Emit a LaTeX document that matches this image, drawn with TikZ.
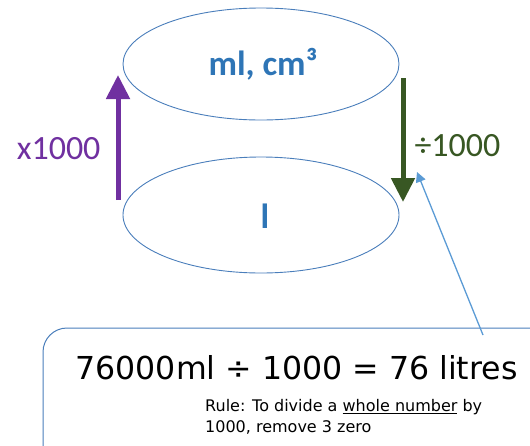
\documentclass[tikz,border=0pt]{standalone}
\usepackage{fontspec}
\setmainfont{Carlito}
\newfontfamily\comicfont{DejaVu Sans}
\usetikzlibrary{arrows.meta,shapes.geometric}
\definecolor{ellblue}{HTML}{4A7EBB}
\definecolor{txtblue}{HTML}{2E75B6}
\definecolor{purp}{HTML}{7030A0}
\definecolor{dgreen}{HTML}{385723}
\definecolor{lblue}{HTML}{5B9BD5}
\tikzset{
  cyl/.style={ellipse, draw=ellblue, line width=0.9pt, minimum width=276pt, minimum height=112pt, inner sep=0pt},
  elltext/.style={text=txtblue, font=\fontsize{35}{38}\selectfont\bfseries},
  bigarrow/.style={line width=5pt, -{Triangle[width=23pt,length=24pt]}},
}
\begin{document}
\begin{tikzpicture}[x=1pt,y=-1pt]
\useasboundingbox (0,0) rectangle (530,445);
\clip (0,0) rectangle (530,445);
\node[cyl] (top) at (261,64) {};
\node[cyl, minimum height=116pt] (bot) at (261,215) {};
\node[elltext] (toplab) at (263,64) {ml, cm³};
\node[elltext] (botlab) at (265,216) {l};
\coordinate (pbase) at (118,200);
\coordinate (ptip) at (118,75);
\draw[bigarrow, purp] (pbase) -- (ptip);
\node[text=purp, font=\fontsize{34}{36}\selectfont, anchor=east] (mul) at (104,149) {x1000};
\coordinate (gbase) at (403,78);
\coordinate (gtip) at (403,202);
\draw[bigarrow, dgreen] (gbase) -- (gtip);
\node[text=dgreen, font=\fontsize{34}{36}\selectfont, anchor=west] (div) at (411,146) {÷1000};
\draw[draw=ellblue, line width=1pt, rounded corners=24pt] (43,328) rectangle (600,500);
\node[anchor=west, font=\comicfont\fontsize{31.6}{34}\selectfont] (eq) at (72,368) {76000ml ÷ 1000 = 76 litres};
\node[anchor=north west, align=left, font=\comicfont\fontsize{16}{21}\selectfont, inner sep=0pt] (rule) at (205,399) {Rule: To divide a \underline{whole number} by\\1000, remove 3 zero};
\coordinate (lstart) at (483,335);
\coordinate (ltip) at (417,172);
\draw[lblue, line width=1.3pt, -{Triangle[width=10pt,length=10pt]}] (lstart) -- (ltip);
\end{tikzpicture}
\end{document}
